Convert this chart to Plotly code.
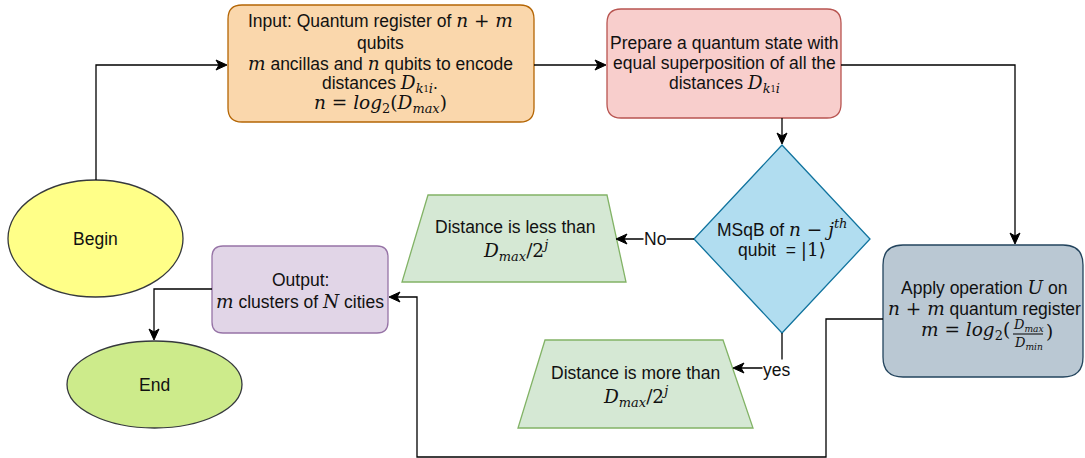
import plotly.graph_objects as go

W, H = 1085, 458
SANS = "Liberation Sans, Arial, Helvetica, sans-serif"
SERIF = "DejaVu Serif, Liberation Serif, serif"
TXT = "#111111"
FS = 17.5
MS = 18.5

def M(s, size=MS):
    return f'<span style="font-family:{SERIF};font-size:{size}px"><i>{s}</i></span>'

def R(s, size=MS):
    return f'<span style="font-family:{SERIF};font-size:{size}px">{s}</span>'

# ---- node definitions (bbox x0,y0,x1,y1, fill, stroke, radius) ----
node_names = ["input", "prepare", "apply", "output"]
node_boxes = [(228, 5, 534, 122), (607, 9, 841, 118), (883, 245, 1083, 377), (212, 246, 388, 333)]
node_fills = ["#fad7ac", "#f8cecc", "#bac8d3", "#e1d5e7"]
node_strokes = ["#b46504", "#b85450", "#23445d", "#9673a6"]
node_radius = [14, 14, 20, 11]

ellipse_labels = ["Begin", "End"]
ellipse_boxes = [(8, 180, 183, 297), (67, 341, 242, 428)]
ellipse_fills = ["#ffff88", "#cdeb8b"]

diamond_pts = [(782, 145), (870, 239), (782, 333), (694, 239)]
trap_less = [(428, 195), (607, 195), (626, 282), (402, 282)]
trap_more = [(545, 340), (723, 340), (753, 428), (518, 428)]

# edges: polyline points, arrow at end
edges = [
    [(96, 180), (96, 65), (227, 65)],
    [(534, 65), (606, 65)],
    [(782, 118), (782, 144)],
    [(841, 65), (1015, 65), (1015, 244)],
    [(694, 239), (616, 239)],
    [(782, 333), (782, 368), (733, 368)],
    [(883, 319), (826, 319), (826, 457), (417, 457), (417, 297), (389, 297)],
    [(212, 289), (154, 289), (154, 340)],
]
edge_labels = [("No", 655, 239), ("yes", 776, 370)]

DK = M("D<sub>k</sub>") + R("<sub>1</sub>", 12) + M("<sub>i</sub>")
DMAX2J = M("D<sub>max</sub>") + R("/2") + M("<sup>j</sup>")

# text lines: (text, x, y)
text_lines = [
    ("Input: Quantum register of " + M("n") + R(" + ") + M("m"), 380, 20),
    ("qubits", 380, 43),
    (M("m") + " ancillas and " + M("n") + " qubits to encode", 380, 63),
    ("distances " + DK + ".", 380, 84),
    (M("n") + R(" = ") + M("log") + R("<sub>2</sub>(") + M("D<sub>max</sub>") + R(")"), 380, 104),
    ("Prepare a quantum state with", 724, 43),
    ("equal superposition of all the", 724, 63),
    ("distances " + DK, 724, 84),
    ("MSqB of " + M("n") + R(" − ") + M("j<sup>th</sup>"), 782, 228),
    ("qubit  = " + R("|1⟩"), 782, 250),
    ("Distance is less than", 515, 227),
    (DMAX2J, 515, 250),
    ("Distance is more than", 635, 373),
    (DMAX2J, 635, 396),
    ("Apply operation " + M("U") + " on", 984, 287),
    (M("n") + R(" + ") + M("m") + " quantum register", 984, 308),
    ("Output:", 300, 280),
    (M("m") + " clusters of " + M("N") + " cities", 300, 301),
]

fig = go.Figure()
shapes = []
annotations = []

def rrect(x0, y0, x1, y1, r):
    return (f"M {x0+r},{y0} L {x1-r},{y0} Q {x1},{y0} {x1},{y0+r} L {x1},{y1-r} "
            f"Q {x1},{y1} {x1-r},{y1} L {x0+r},{y1} Q {x0},{y1} {x0},{y1-r} "
            f"L {x0},{y0+r} Q {x0},{y0} {x0+r},{y0} Z")

def poly(pts):
    return "M " + " L ".join(f"{x},{y}" for x, y in pts) + " Z"

for (x0, y0, x1, y1), f, s, r in zip(node_boxes, node_fills, node_strokes, node_radius):
    shapes.append(dict(type="path", path=rrect(x0, y0, x1, y1, r), fillcolor=f,
                       line=dict(color=s, width=1.3), layer="below"))

for (x0, y0, x1, y1), f, lab in zip(ellipse_boxes, ellipse_fills, ellipse_labels):
    shapes.append(dict(type="circle", x0=x0, y0=y0, x1=x1, y1=y1, fillcolor=f,
                       line=dict(color="#36393d", width=1.3), layer="below"))
    annotations.append(dict(x=(x0 + x1) / 2, y=(y0 + y1) / 2, text=lab, showarrow=False,
                            font=dict(family=SANS, size=FS, color=TXT)))

shapes.append(dict(type="path", path=poly(diamond_pts), fillcolor="#b1ddf0",
                   line=dict(color="#10739e", width=1.3), layer="below"))
for tp in (trap_less, trap_more):
    shapes.append(dict(type="path", path=poly(tp), fillcolor="#d5e8d4",
                       line=dict(color="#82b366", width=1.3), layer="below"))

def arrowhead(p_from, tip, L=11, hw=5, notch=8):
    dx, dy = tip[0] - p_from[0], tip[1] - p_from[1]
    n = (dx * dx + dy * dy) ** 0.5
    ux, uy = dx / n, dy / n
    px, py = -uy, ux
    bx, by = tip[0] - ux * L, tip[1] - uy * L
    nx, ny = tip[0] - ux * notch, tip[1] - uy * notch
    pts = [tip, (bx + px * hw, by + py * hw), (nx, ny), (bx - px * hw, by - py * hw)]
    return poly(pts)

for pts in edges:
    path = "M " + " L ".join(f"{x},{y}" for x, y in pts[:-1])
    (ax, ay), (tx, ty) = pts[-2], pts[-1]
    dx, dy = tx - ax, ty - ay
    n = (dx * dx + dy * dy) ** 0.5
    ex, ey = tx - dx / n * 7, ty - dy / n * 7
    path += f" L {ex},{ey}"
    shapes.append(dict(type="path", path=path, line=dict(color="#000000", width=1.3)))
    shapes.append(dict(type="path", path=arrowhead(pts[-2], pts[-1]), fillcolor="#000000",
                       line=dict(color="#000000", width=1)))

for lab, x, y in edge_labels:
    annotations.append(dict(x=x, y=y, text=lab, showarrow=False, bgcolor="#ffffff",
                            borderpad=0, font=dict(family=SANS, size=FS, color=TXT)))

for t, x, y in text_lines:
    annotations.append(dict(x=x, y=y, text=t, showarrow=False,
                            font=dict(family=SANS, size=FS, color=TXT)))

# fraction in the Apply box
annotations.append(dict(x=1012, y=331, xanchor="right",
                        text=M("m") + R(" = ") + M("log") + R("<sub>2</sub>("),
                        showarrow=False, font=dict(family=SANS, size=FS, color=TXT)))
annotations.append(dict(x=1028, y=325, text=M("D<sub>max</sub>", 13), showarrow=False,
                        font=dict(family=SANS, size=13, color=TXT)))
annotations.append(dict(x=1028, y=343, text=M("D<sub>min</sub>", 13), showarrow=False,
                        font=dict(family=SANS, size=13, color=TXT)))
annotations.append(dict(x=1044, y=331, xanchor="left", text=R(")"), showarrow=False,
                        font=dict(family=SANS, size=FS, color=TXT)))
shapes.append(dict(type="line", x0=1013, x1=1043, y0=334, y1=334, line=dict(color="#000", width=1)))

fig.update_layout(
    width=W, height=H, margin=dict(l=0, r=0, t=0, b=0),
    paper_bgcolor="#ffffff", plot_bgcolor="#ffffff",
    xaxis=dict(range=[0, W], visible=False, fixedrange=True),
    yaxis=dict(range=[H, 0], visible=False, fixedrange=True),
    shapes=shapes, annotations=annotations, showlegend=False,
)
fig.write_html("out.html", config={"displayModeBar": False},
               post_script="document.body.style.margin='0';document.body.style.padding='0';document.body.style.overflow='hidden';")
